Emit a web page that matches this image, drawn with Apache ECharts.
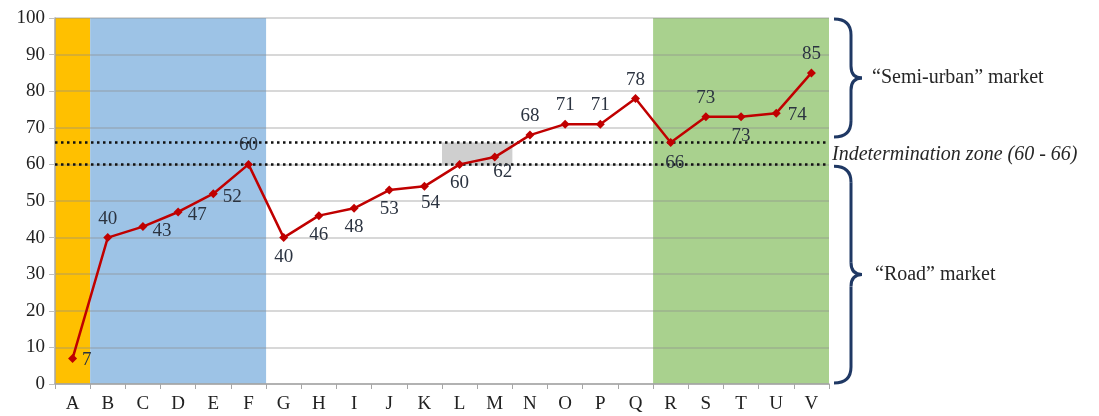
<!DOCTYPE html>
<html>
<head>
<meta charset="utf-8">
<script src="https://cdn.jsdelivr.net/npm/echarts@6/dist/echarts.min.js"></script>
<style>html,body{margin:0;padding:0;background:#fff}#c{width:1099px;height:416px}</style>
</head>
<body>
<div id="c"></div>
<script>
const categories = ['A','B','C','D','E','F','G','H','I','J','K','L','M','N','O','P','Q','R','S','T','U','V'];
const values = [7,40,43,47,52,60,40,46,48,53,54,60,62,68,71,71,78,66,73,73,74,85];
const labelPos = ['right','top','right','right','right','top','bottom','bottom','bottom','bottom','bottom','bottom','bottom','top','top','top','top','bottom','top','bottom','right','top'];
const bands = [
  { from: 'A', to: 'A', color: '#FFC000' },
  { from: 'B', to: 'F', color: '#9DC3E6' },
  { from: 'R', to: 'V', color: '#A9D18E' }
];
const indetLow = 60, indetHigh = 66;
const indetCats = ['L','M'];
const yTicks = { min: 0, max: 100, interval: 10 };

const serif = '"Liberation Serif","DejaVu Serif",serif';
const idx = c => categories.indexOf(c);

const bandAreas = bands.map(b => [
  { xAxis: idx(b.from), yAxis: yTicks.max, itemStyle: { color: b.color } },
  { xAxis: idx(b.to) + 1, yAxis: yTicks.min }
]);
const indetArea = [[
  { xAxis: idx(indetCats[0]), yAxis: indetHigh },
  { xAxis: idx(indetCats[indetCats.length - 1]) + 1, yAxis: indetLow }
]];

const offsets = { C:[0,4], D:[0,3], E:[0,3], K:[6,-2], M:[8,-4], A:[0,2], R:[4,2], U:[2,2] };

const lineData = values.map((v, i) => ({
  value: v,
  label: { show: true, position: labelPos[i], distance: 5, offset: offsets[categories[i]] || [0,0] }
}));

const chart = echarts.init(document.getElementById('c'));
chart.setOption({
  animation: false,
  grid: { left: 55, right: 270, top: 18, bottom: 32 },
  xAxis: [{
    type: 'category', data: categories, boundaryGap: true,
    axisLine: { lineStyle: { color: '#a6a6a6', width: 1.5 } },
    axisTick: { show: true, length: 5, lineStyle: { color: '#a6a6a6' } },
    splitLine: { show: false },
    axisLabel: { color: '#222', fontFamily: serif, fontSize: 19, margin: 11 }
  }, {
    type: 'value', min: 0, max: categories.length, show: false
  }],
  yAxis: {
    type: 'value', min: yTicks.min, max: yTicks.max, interval: yTicks.interval,
    axisLine: { show: true, lineStyle: { color: '#a6a6a6', width: 1.5 } },
    axisTick: { show: true, length: 6, lineStyle: { color: '#bfbfbf' } },
    axisLabel: { color: '#222', fontFamily: serif, fontSize: 19, margin: 10 },
    splitLine: { lineStyle: { color: 'rgba(140,140,140,0.45)', width: 1.5 } }
  },
  series: [
    { type: 'line', xAxisIndex: 1, data: [], z: -2, silent: true,
      markArea: { z: -2, silent: true, itemStyle: { opacity: 1 }, data: bandAreas } },
    { type: 'line', xAxisIndex: 1, data: [], z: 1, silent: true,
      markArea: { z: 1, silent: true, itemStyle: { color: 'rgba(160,160,160,0.5)' }, data: indetArea } },
    {
      type: 'line', data: lineData, z: 5,
      symbol: 'diamond', symbolSize: 9,
      lineStyle: { color: '#C00000', width: 2.5 },
      itemStyle: { color: '#C00000' },
      label: { color: '#2b3340', fontFamily: serif, fontSize: 19 },
      markLine: {
        silent: true, symbol: 'none', label: { show: false },
        lineStyle: { color: '#111', type: [2.5, 3.5], width: 2.5 },
        data: [{ yAxis: indetLow }, { yAxis: indetHigh }]
      }
    }
  ]
});

const braceStyle = { stroke: '#1f3864', lineWidth: 3, fill: null };
function brace(x0, y1, y2) {
  const m = (y1 + y2) / 2, s = x0 + 17, t = x0 + 28;
  return [
    { type: 'bezierCurve', shape: { x1: x0, y1: y1, cpx1: s, cpy1: y1, x2: s, y2: y1 + 16 }, style: braceStyle },
    { type: 'line', shape: { x1: s, y1: y1 + 16, x2: s, y2: m - 12 }, style: braceStyle },
    { type: 'bezierCurve', shape: { x1: s, y1: m - 12, cpx1: s, cpy1: m, x2: t, y2: m }, style: braceStyle },
    { type: 'bezierCurve', shape: { x1: t, y1: m, cpx1: s, cpy1: m, x2: s, y2: m + 12 }, style: braceStyle },
    { type: 'line', shape: { x1: s, y1: m + 12, x2: s, y2: y2 - 16 }, style: braceStyle },
    { type: 'bezierCurve', shape: { x1: s, y1: y2 - 16, cpx1: s, cpy1: y2, x2: x0, y2: y2 }, style: braceStyle }
  ];
}
const yp = v => chart.convertToPixel({ yAxisIndex: 0 }, v);
const xr = 1099 - 270;
const txt = { fontFamily: serif, fontSize: 20, fill: '#262626' };
chart.setOption({
  graphic: [].concat(
    brace(xr + 5, yp(100) + 1, yp(67.5)),
    brace(xr + 5, yp(59.5), yp(0) - 1),
    [
      { type: 'text', x: xr + 43, y: (yp(100) + yp(67.5)) / 2, style: Object.assign({ text: '“Semi-urban” market', verticalAlign: 'middle' }, txt) },
      { type: 'text', x: xr + 3, y: (yp(indetLow) + yp(indetHigh)) / 2 + 1, style: Object.assign({ text: 'Indetermination zone (60 - 66)', verticalAlign: 'middle', fontStyle: 'italic' }, txt) },
      { type: 'text', x: xr + 46, y: (yp(59.5) + yp(0)) / 2, style: Object.assign({ text: '“Road” market', verticalAlign: 'middle' }, txt) }
    ]
  )
});
</script>
</body>
</html>
